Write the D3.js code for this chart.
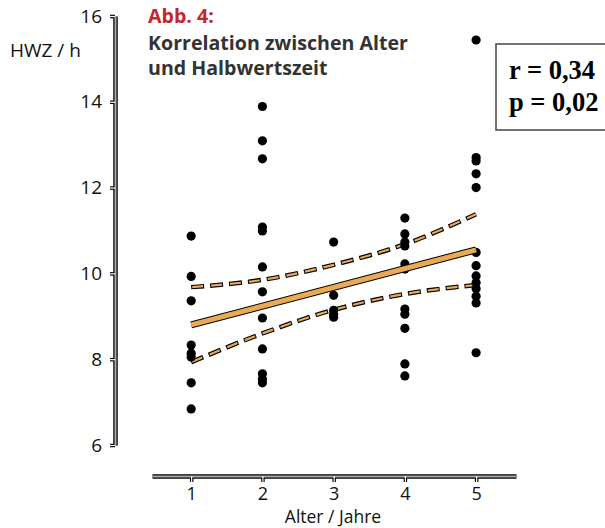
<!DOCTYPE html>
<html lang="de">
<head>
  <meta charset="utf-8">
  <title>Abb. 4</title>
  <script src="https://cdn.jsdelivr.net/npm/d3@7"></script>
  <style>
    body { margin: 0; background: #fff; }
    svg text { font-family: "Open Sans", "Noto Sans", sans-serif; }
  </style>
</head>
<body>
<script>
// Halbwertszeit (h) je Altersgruppe
var ages = [1, 2, 3, 4, 5];
var hwz1 = [10.87, 9.93, 9.36, 8.33, 8.14, 8.05, 7.45, 6.84];
var hwz2 = [13.89, 13.09, 12.67, 11.08, 10.99, 10.15, 9.57, 8.96, 8.24, 7.66, 7.54, 7.45];
var hwz3 = [10.73, 9.49, 9.14, 9.05, 8.98];
var hwz4 = [11.29, 10.92, 10.73, 10.64, 10.22, 10.10, 9.17, 9.05, 8.72, 7.89, 7.61];
var hwz5 = [15.44, 12.70, 12.62, 12.32, 12.0, 10.49, 10.18, 9.94, 9.78, 9.64, 9.47, 9.31, 8.15];

// Regressionsgerade und Konfidenzband
var fitX = [1, 5];
var fitY = [8.80, 10.55];
var ciX = [1, 2, 3, 4, 5];
var ciUpper = [9.68, 9.85, 10.2, 10.68, 11.38];
var ciLower = [7.93, 8.6, 9.15, 9.52, 9.73];

var yTicks = [6, 8, 10, 12, 14, 16];

var groups = [hwz1, hwz2, hwz3, hwz4, hwz5];
var points = [];
groups.forEach(function(g, i) {
  g.forEach(function(v) { points.push([ages[i], v]); });
});

var width = 605, height = 528;
var orange = "#eaa955";

var svg = d3.select("body").append("svg")
  .attr("width", width).attr("height", height);

var x = d3.scaleLinear().domain([0.45, 5.56]).range([152, 516]);
var y = d3.scaleLinear().domain([6, 16]).range([445, 16]);

// Achsen: doppelt gezeichnet (schwarzer Rand, graue Füllung)
function styleAxis(g, outer) {
  g.select(".domain").attr("stroke", outer ? "#000" : "#aaa")
    .attr("stroke-width", outer ? 4.5 : 2);
  g.selectAll(".tick line").attr("stroke", outer ? "#000" : "#fff")
    .attr("stroke-width", outer ? 3.5 : 1.2);
}

var yAxis = d3.axisLeft(y).tickValues(yTicks).tickSize(5).tickSizeOuter(0).tickPadding(8);
var xAxis = d3.axisBottom(x).tickValues(ages).tickFormat(d3.format("d"))
  .tickSize(6).tickSizeOuter(0).tickPadding(5);

[true, false].forEach(function(outer) {
  var gy = svg.append("g").attr("transform", "translate(115,0)").call(yAxis);
  styleAxis(gy, outer);
  gy.selectAll("text").attr("font-size", 19);
  var gx = svg.append("g").attr("transform", "translate(0,476)").call(xAxis);
  styleAxis(gx, outer);
  gx.selectAll("text").attr("font-size", 18);
  [gy, gx].forEach(function(g) {
    g.selectAll("text").attr("fill", outer ? "#111" : "none")
      .style("font-family", "'Open Sans', sans-serif");
  });
});

svg.append("text").attr("x", 10).attr("y", 57).attr("font-size", 19)
  .attr("fill", "#111").text("HWZ / h");
svg.append("text").attr("x", 333).attr("y", 523).attr("font-size", 17.5)
  .attr("text-anchor", "middle").attr("fill", "#111").text("Alter / Jahre");

// Titel
svg.append("text").attr("x", 148).attr("y", 23).attr("font-size", 19.6)
  .attr("font-weight", "bold").attr("fill", "#c1272d").text("Abb. 4:");
svg.append("text").attr("x", 148).attr("y", 50).attr("font-size", 19.6)
  .attr("font-weight", "bold").attr("fill", "#333").text("Korrelation zwischen Alter");
svg.append("text").attr("x", 148).attr("y", 75).attr("font-size", 19.6)
  .attr("font-weight", "bold").attr("fill", "#333").text("und Halbwertszeit");

// Linien
var line = d3.line().x(function(d) { return x(d[0]); }).y(function(d) { return y(d[1]); });
var smooth = d3.line().curve(d3.curveMonotoneX)
  .x(function(d) { return x(d[0]); }).y(function(d) { return y(d[1]); });

var fit = fitX.map(function(v, i) { return [v, fitY[i]]; });
var up = ciX.map(function(v, i) { return [v, ciUpper[i]]; });
var lo = ciX.map(function(v, i) { return [v, ciLower[i]]; });

[up, lo].forEach(function(d) {
  svg.append("path").datum(d).attr("d", smooth).attr("fill", "none")
    .attr("stroke", "#000").attr("stroke-width", 4.5).attr("stroke-dasharray", "13,6");
  svg.append("path").datum(d).attr("d", smooth).attr("fill", "none")
    .attr("stroke", orange).attr("stroke-width", 2.2).attr("stroke-dasharray", "0,1,11,7");
});

// Punkte
svg.append("g").selectAll("circle").data(points).enter().append("circle")
  .attr("cx", function(d) { return x(d[0]); })
  .attr("cy", function(d) { return y(d[1]); })
  .attr("r", 4.6).attr("fill", "#000");

svg.append("path").datum(fit).attr("d", line).attr("fill", "none")
  .attr("stroke", "#000").attr("stroke-width", 7);
svg.append("path").datum(fit).attr("d", line).attr("fill", "none")
  .attr("stroke", orange).attr("stroke-width", 5);

// Statistik-Kasten
svg.append("rect").attr("x", 496).attr("y", 44).attr("width", 120).attr("height", 86)
  .attr("fill", "#fff").attr("stroke", "#444").attr("stroke-width", 1.5);
svg.append("text").attr("x", 509).attr("y", 79).attr("font-size", 26.5)
  .attr("font-weight", "bold").style("font-family", "'Liberation Serif', serif")
  .attr("fill", "#000").text("r = 0,34");
svg.append("text").attr("x", 509).attr("y", 111).attr("font-size", 26.5)
  .attr("font-weight", "bold").style("font-family", "'Liberation Serif', serif")
  .attr("fill", "#000").text("p = 0,02");
</script>
</body>
</html>
